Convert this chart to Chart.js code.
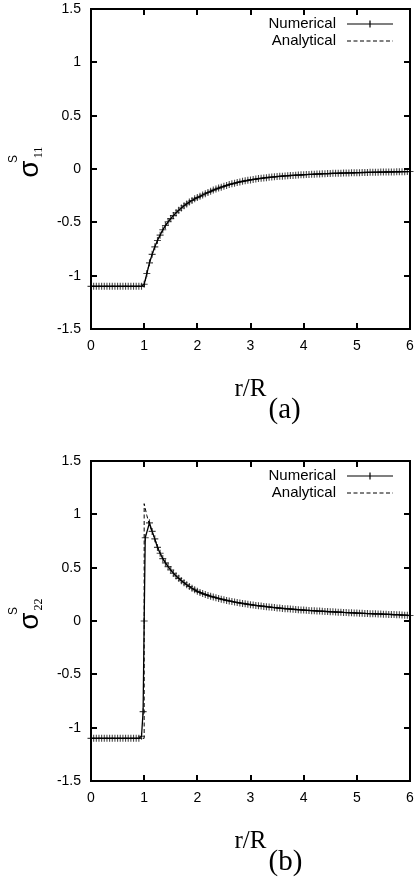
<!DOCTYPE html>
<html>
<head>
<meta charset="utf-8">
<script src="https://cdn.jsdelivr.net/npm/chart.js@4.4.1/dist/chart.umd.min.js"></script>
<style>
html, body { margin: 0; padding: 0; background: #fff; }
canvas { display: block; }
</style>
</head>
<body>
<canvas id="graficoA" width="417" height="441"></canvas>
<canvas id="graficoB" width="417" height="441"></canvas>
<script>
// Ticks de los ejes
const xTicks = [0, 1, 2, 3, 4, 5, 6];
const yTicks = [-1.5, -1, -0.5, 0, 0.5, 1, 1.5];

// Panel (a): sigma_11, numérico (r/R, valor)
const rNumA = [0,0.05,0.1,0.15,0.2,0.25,0.3,0.35,0.4,0.45,0.5,0.55,0.6,0.65,0.7,0.75,0.8,0.85,0.9,0.95,
    1,1.05,1.1,1.15,1.2,1.25,1.3,1.35,1.4,1.45,1.5,1.55,1.6,1.65,1.7,1.75,1.8,1.85,1.9,1.95,2,
    2.05,2.1,2.15,2.2,2.25,2.3,2.35,2.4,2.45,2.5,2.55,2.6,2.65,2.7,2.75,2.8,2.85,2.9,2.95,3,
    3.05,3.1,3.15,3.2,3.25,3.3,3.35,3.4,3.45,3.5,3.55,3.6,3.65,3.7,3.75,3.8,3.85,3.9,3.95,4,
    4.05,4.1,4.15,4.2,4.25,4.3,4.35,4.4,4.45,4.5,4.55,4.6,4.65,4.7,4.75,4.8,4.85,4.9,4.95,5,
    5.05,5.1,5.15,5.2,5.25,5.3,5.35,5.4,5.45,5.5,5.55,5.6,5.65,5.7,5.75,5.8,5.85,5.9,5.95,6];
const numA = [-1.1,-1.1,-1.1,-1.1,-1.1,-1.1,-1.1,-1.1,-1.1,-1.1,-1.1,-1.1,-1.1,-1.1,-1.1,-1.1,-1.1,-1.1,-1.1,-1.1,
    -1.08,-0.98,-0.88,-0.8,-0.73,-0.67,-0.62,-0.57,-0.53,-0.495,-0.465,-0.437,-0.41,-0.387,-0.365,-0.345,-0.327,-0.31,-0.295,-0.28,-0.268,
    -0.256,-0.244,-0.232,-0.22,-0.209,-0.198,-0.188,-0.179,-0.17,-0.162,-0.154,-0.146,-0.139,-0.133,-0.127,-0.121,-0.116,-0.111,-0.106,-0.102,
    -0.098,-0.094,-0.09,-0.087,-0.084,-0.081,-0.078,-0.076,-0.073,-0.071,-0.069,-0.067,-0.065,-0.063,-0.061,-0.06,-0.058,-0.057,-0.055,-0.054,
    -0.052,-0.051,-0.05,-0.049,-0.048,-0.046,-0.045,-0.044,-0.043,-0.042,-0.041,-0.041,-0.04,-0.039,-0.038,-0.037,-0.037,-0.036,-0.035,-0.034,
    -0.034,-0.033,-0.033,-0.032,-0.031,-0.031,-0.03,-0.03,-0.029,-0.029,-0.028,-0.028,-0.027,-0.027,-0.026,-0.026,-0.025,-0.025,-0.024,-0.024];

// Panel (a): analítico
const rAnaA = [0,1,1.05,1.1,1.15,1.2,1.3,1.4,1.5,1.6,1.7,1.8,1.9,2,2.25,2.5,2.75,3,3.5,4,4.5,5,5.5,6];
const anaA  = [-1.1,-1.1,-0.98,-0.88,-0.8,-0.73,-0.62,-0.53,-0.465,-0.41,-0.365,-0.327,-0.295,-0.268,-0.209,-0.162,-0.127,-0.102,-0.071,-0.054,-0.042,-0.034,-0.029,-0.024];

// Panel (b): sigma_22, numérico
const rNumB = [0,0.05,0.1,0.15,0.2,0.25,0.3,0.35,0.4,0.45,0.5,0.55,0.6,0.65,0.7,0.75,0.8,0.85,0.9,0.95,
    0.98,1,1.02,1.1,
    1.15,1.2,1.25,1.3,1.35,1.4,1.45,1.5,1.55,1.6,1.65,1.7,1.75,1.8,1.85,1.9,1.95,2,
    2.05,2.1,2.15,2.2,2.25,2.3,2.35,2.4,2.45,2.5,2.55,2.6,2.65,2.7,2.75,2.8,2.85,2.9,2.95,3,
    3.05,3.1,3.15,3.2,3.25,3.3,3.35,3.4,3.45,3.5,3.55,3.6,3.65,3.7,3.75,3.8,3.85,3.9,3.95,4,
    4.05,4.1,4.15,4.2,4.25,4.3,4.35,4.4,4.45,4.5,4.55,4.6,4.65,4.7,4.75,4.8,4.85,4.9,4.95,5,
    5.05,5.1,5.15,5.2,5.25,5.3,5.35,5.4,5.45,5.5,5.55,5.6,5.65,5.7,5.75,5.8,5.85,5.9,5.95,6];
const numB = [-1.1,-1.1,-1.1,-1.1,-1.1,-1.1,-1.1,-1.1,-1.1,-1.1,-1.1,-1.1,-1.1,-1.1,-1.1,-1.1,-1.1,-1.1,-1.1,-1.08,
    -0.85,0,0.78,0.92,
    0.84,0.77,0.69,0.635,0.585,0.545,0.51,0.478,0.448,0.422,0.4,0.378,0.358,0.34,0.323,0.307,0.292,0.278,
    0.267,0.257,0.248,0.24,0.232,0.225,0.218,0.211,0.205,0.199,0.193,0.188,0.183,0.178,0.173,0.169,0.165,0.161,0.157,0.153,
    0.15,0.146,0.143,0.14,0.137,0.134,0.131,0.128,0.126,0.123,0.121,0.118,0.116,0.114,0.112,0.11,0.108,0.106,0.104,0.102,
    0.1,0.099,0.097,0.096,0.094,0.093,0.091,0.09,0.088,0.087,0.086,0.084,0.083,0.082,0.08,0.079,0.078,0.077,0.076,0.074,
    0.073,0.072,0.071,0.07,0.069,0.068,0.067,0.066,0.065,0.064,0.063,0.062,0.061,0.06,0.059,0.058,0.056,0.055,0.053,0.051];

// Panel (b): analítico
const rAnaB = [0,1,1,1.05,1.1,1.2,1.3,1.4,1.5,1.6,1.7,1.8,1.9,2,2.25,2.5,2.75,3,3.5,4,4.5,5,5.5,6];
const anaB  = [-1.1,-1.1,1.1,0.99,0.9,0.77,0.635,0.545,0.478,0.422,0.378,0.34,0.307,0.278,0.232,0.199,0.173,0.153,0.123,0.102,0.087,0.074,0.064,0.051];

const puntos = (xs, ys) => xs.map((r, i) => ({ x: r, y: ys[i] }));

// Plugin: marco estilo gnuplot, leyenda y títulos de ejes
const marcoPlugin = {
    id: 'marco',
    afterDraw(chart, args, opts){
        const { ctx, chartArea: ca, scales: { x, y } } = chart;
        ctx.save();
        ctx.strokeStyle = '#000';
        ctx.lineWidth = 2;
        ctx.setLineDash([]);

        // ticks hacia dentro en los cuatro lados
        ctx.beginPath();
        x.ticks.forEach(t => {
            const px = Math.round(x.getPixelForValue(t.value));
            ctx.moveTo(px, ca.bottom); ctx.lineTo(px, ca.bottom - 6);
            ctx.moveTo(px, ca.top);    ctx.lineTo(px, ca.top + 6);
        });
        y.ticks.forEach(t => {
            const py = Math.round(y.getPixelForValue(t.value));
            ctx.moveTo(ca.left, py);  ctx.lineTo(ca.left + 6, py);
            ctx.moveTo(ca.right, py); ctx.lineTo(ca.right - 6, py);
        });
        ctx.stroke();
        ctx.strokeRect(ca.left, ca.top, ca.right - ca.left, ca.bottom - ca.top);

        // leyenda
        ctx.fillStyle = '#000';
        ctx.font = '15px "Liberation Sans", Arial, sans-serif';
        ctx.textAlign = 'right';
        ctx.textBaseline = 'middle';
        const ly1 = ca.top + 15, ly2 = ca.top + 32;
        ctx.fillText('Numerical', ca.right - 74, ly1);
        ctx.fillText('Analytical', ca.right - 74, ly2);
        ctx.lineWidth = 1.2;
        ctx.beginPath();
        ctx.moveTo(ca.right - 63, ly1); ctx.lineTo(ca.right - 17, ly1);
        ctx.moveTo(ca.right - 40, ly1 - 3.5); ctx.lineTo(ca.right - 40, ly1 + 3.5);
        ctx.stroke();
        ctx.lineWidth = 1;
        ctx.setLineDash([4, 2.5]);
        ctx.beginPath();
        ctx.moveTo(ca.right - 63, ly2); ctx.lineTo(ca.right - 17, ly2);
        ctx.stroke();
        ctx.setLineDash([]);

        // título eje x
        const cx = (ca.left + ca.right) / 2;
        ctx.textBaseline = 'alphabetic';
        ctx.textAlign = 'center';
        ctx.font = '25px "Liberation Serif", "Times New Roman", serif';
        ctx.fillText('r/R', cx, ca.bottom + 67);
        ctx.textAlign = 'left';
        ctx.font = '29px "Liberation Serif", "Times New Roman", serif';
        ctx.fillText(opts.panel, cx + 18, ca.bottom + 89);

        // título eje y (rotado)
        ctx.translate(30, (ca.top + ca.bottom) / 2);
        ctx.rotate(-Math.PI / 2);
        ctx.textAlign = 'center';
        ctx.font = '28px "Liberation Sans", Arial, sans-serif';
        ctx.fillText('σ', 0, 7.5);
        ctx.font = '12px "Liberation Sans", Arial, sans-serif';
        ctx.fillText('S', 10, -13.5);
        ctx.font = '12px "Liberation Serif", "Times New Roman", serif';
        ctx.fillText(opts.sub, 16.5, 12);
        ctx.restore();
    }
};

function crearGrafico(id, rNum, num, rAna, ana, cfg){
    return new Chart(document.getElementById(id), {
        type: 'scatter',
        data: {
            datasets: [{
                label: 'Numerical',
                data: puntos(rNum, num),
                showLine: true,
                borderColor: '#000',
                borderWidth: 1.3,
                pointStyle: 'cross',
                pointRadius: 3.5,
                pointBorderColor: 'rgba(0,0,0,0.72)',
                pointBorderWidth: 1.1,
                clip: false,
                order: 1
            }, {
                label: 'Analytical',
                data: puntos(rAna, ana),
                showLine: true,
                borderColor: '#000',
                borderWidth: 1,
                borderDash: [4, 2.5],
                pointRadius: 0,
                clip: false,
                order: 0
            }]
        },
        options: {
            responsive: false,
            animation: false,
            layout: { padding: { left: 0, right: 7, top: cfg.top, bottom: 0 } },
            plugins: {
                legend:  { display: false },
                tooltip: { enabled: false },
                marco: { panel: cfg.panel, sub: cfg.sub }
            },
            scales: {
                x: {
                    type: 'linear',
                    min: 0, max: 6,
                    afterBuildTicks: s => { s.ticks = xTicks.map(v => ({ value: v })); },
                    afterFit: s => { s.height = cfg.xAlto; s.paddingLeft = 0; s.paddingRight = 0; },
                    grid:   { display: false, drawTicks: false },
                    border: { display: false },
                    ticks:  { color: '#000', padding: 9, font: { family: '"Liberation Sans", Arial, sans-serif', size: 14 }, callback: v => String(v) }
                },
                y: {
                    type: 'linear',
                    min: -1.5, max: 1.5,
                    afterBuildTicks: s => { s.ticks = yTicks.map(v => ({ value: v })); },
                    afterFit: s => { s.width = 91; s.paddingTop = 0; s.paddingBottom = 0; },
                    grid:   { display: false, drawTicks: false },
                    border: { display: false },
                    ticks:  { color: '#000', padding: 10, font: { family: '"Liberation Sans", Arial, sans-serif', size: 14 }, callback: v => String(v) }
                }
            }
        },
        plugins: [marcoPlugin]
    });
}

crearGrafico('graficoA', rNumA, numA, rAnaA, anaA, { top: 9,  xAlto: 112, panel: '(a)', sub: '11' });
crearGrafico('graficoB', rNumB, numB, rAnaB, anaB, { top: 20, xAlto: 101, panel: '(b)', sub: '22' });
</script>
</body>
</html>
